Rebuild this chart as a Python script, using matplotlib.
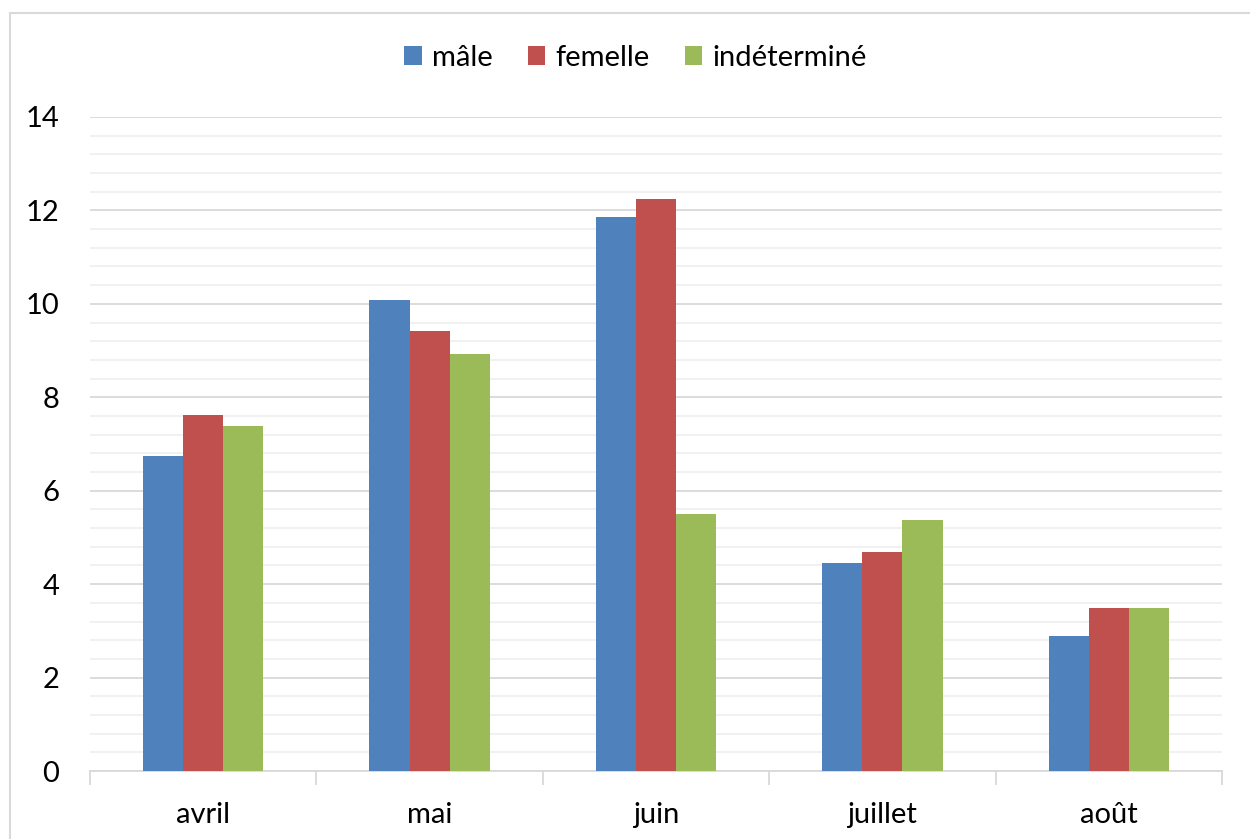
import numpy as np
import matplotlib.pyplot as plt
from matplotlib.patches import Rectangle

mois = ['avril', 'mai', 'juin', 'juillet', 'août']
male = [6.74, 10.08, 11.86, 4.45, 2.89]
femelle = [7.62, 9.42, 12.25, 4.69, 3.49]
indetermine = [7.39, 8.93, 5.50, 5.37, 3.49]

series = [('mâle', male, '#4f81bd'),
          ('femelle', femelle, '#c0504d'),
          ('indéterminé', indetermine, '#9bbb59')]

plt.rcParams['font.family'] = ['Lato', 'DejaVu Sans']

fig = plt.figure(figsize=(12.5, 8.39), dpi=100)
ax = fig.add_axes([0.072, 0.081, 0.9056, 0.7796])

# cadre du graphique
fig.patches.append(Rectangle((10 / 1250, -0.1), 1.2, 1 - 13 / 839 + 0.1,
                             transform=fig.transFigure, fill=False,
                             edgecolor='#d9d9d9', linewidth=1.5))

x = np.arange(len(mois))
w = 0.177
for i, (nom, vals, col) in enumerate(series):
    ax.bar(x + (i - 1) * w, vals, w, color=col, label=nom, zorder=3)

ax.set_xlim(-0.5, len(mois) - 0.5)
ax.set_ylim(0, 14)
ax.set_yticks(np.arange(0, 15, 2))
ax.set_yticks(np.arange(0, 14.01, 0.4), minor=True)
ax.grid(axis='y', which='major', color='#d9d9d9', linewidth=1.3, zorder=0)
ax.grid(axis='y', which='minor', color='#f0f0f0', linewidth=1.3, zorder=0)

ax.set_xticks(x)
ax.set_xticklabels(mois)
ax.set_xticks(np.arange(-0.5, len(mois)), minor=True)
ax.tick_params(axis='x', which='major', length=0, labelsize=21, pad=22)
ax.tick_params(axis='x', which='minor', length=10, color='#d9d9d9', width=1.3)
ax.tick_params(axis='y', which='both', length=0, labelsize=21, pad=22)

for s in ['top', 'right', 'left']:
    ax.spines[s].set_visible(False)
ax.spines['bottom'].set_color('#d9d9d9')
ax.spines['bottom'].set_linewidth(1.3)

ax.legend(loc='center', bbox_to_anchor=(0.482, 1.0 + 59 / 654), ncol=3,
          frameon=False, fontsize=21, handlelength=0.6, handleheight=0.6,
          handletextpad=0.35, columnspacing=1.2)

fig.savefig('out.png', dpi=100)
